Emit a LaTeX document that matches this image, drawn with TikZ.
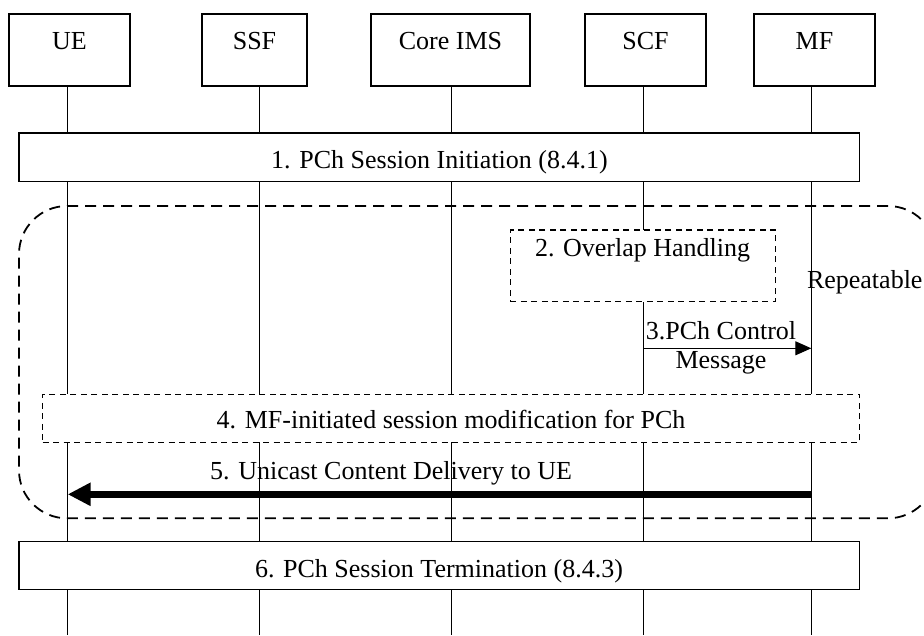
\documentclass[tikz,border=0pt]{standalone}
\usepackage{fontspec}
\setmainfont{Liberation Serif}
\usetikzlibrary{arrows.meta}
\begin{document}
\begin{tikzpicture}[x=1pt,y=-1pt,
  every node/.style={font=\fontsize{26}{30}\selectfont, inner sep=0pt, outer sep=0pt},
  ent/.style={draw, line width=1.3pt, fill=white, minimum width=121pt, minimum height=72pt, anchor=north},
  life/.style={line width=1pt},
  solidbox/.style={draw, line width=1.3pt, fill=white},
  dashbox/.style={draw, line width=1.1pt, fill=white, dash pattern=on 6pt off 4.5pt},
  loopbox/.style={draw, line width=1.8pt, dash pattern=on 11pt off 7pt, rounded corners=48pt},
  txt/.style={anchor=base},
  msg/.style={line width=1pt, -{Triangle[length=16pt,width=14pt]}},
  bigmsg/.style={line width=7pt, -{Triangle[length=23pt,width=22pt]}}]
\useasboundingbox (0,0) rectangle (924,635);
\clip (0,0) rectangle (924,635);
% entities
\node[ent] (ue) at (69.5,14) {};
\node[ent, minimum width=105pt] (ssf) at (254.5,14) {};
\node[ent, minimum width=159pt] (ims) at (450.5,14) {};
\node[ent] (scf) at (645.5,14) {};
\node[ent] (mf) at (814.5,14) {};
\node[txt] (tue) at (69.5,49) {UE};
\node[txt] (tssf) at (254.5,49) {SSF};
\node[txt] (tims) at (450.5,49) {Core IMS};
\node[txt] (tscf) at (645.5,49) {SCF};
\node[txt] (tmf) at (814.5,49) {MF};
% lifeline ends
\coordinate (ueE) at (67.7,635);
\coordinate (ssfE) at (259,635);
\coordinate (imsE) at (451.7,635);
\coordinate (scfE) at (643.7,635);
\coordinate (mfE) at (811.3,635);
\draw[life] (ue.south -| ueE) -- (ueE);
\draw[life] (ssf.south -| ssfE) -- (ssfE);
\draw[life] (ims.south -| imsE) -- (imsE);
\draw[life] (scf.south -| scfE) -- (scfE);
\draw[life] (mf.south -| mfE) -- (mfE);
% step 1
\node[solidbox, minimum width=840.7pt, minimum height=48.7pt] (s1) at (439.3,157.3) {};
\node[txt] (t1) at (439.5,168.3) {1. PCh Session Initiation (8.4.1)};
% repeat loop
\node[loopbox, minimum width=917pt, minimum height=312.3pt] (loop) at (477.5,362.15) {};
\node[anchor=base west] (rep) at (807,288.3) {Repeatable};
% step 2
\node[dashbox, minimum width=265pt, minimum height=71.7pt] (s2) at (642.8,265.85) {};
\node[txt] (t2) at (642.6,256.7) {2. Overlap Handling};
% step 3
\coordinate (a3s) at (643.7,348.3);
\coordinate (a3e) at (811.3,348.3);
\draw[msg] (a3s) -- (a3e);
\node[txt] (t3a) at (721,339.3) {3.PCh Control};
\node[txt] (t3b) at (721,368.3) {Message};
% step 4
\node[dashbox, minimum width=817pt, minimum height=48pt] (s4) at (451.2,418.3) {};
\node[txt] (t4) at (451,428.3) {4. MF-initiated session modification for PCh};
% step 5
\coordinate (a5s) at (811.3,494.3);
\coordinate (a5e) at (67.7,494.3);
\draw[bigmsg] (a5s) -- (a5e);
\node[txt] (t5) at (391,479.3) {5. Unicast Content Delivery to UE};
% step 6
\node[solidbox, minimum width=840.7pt, minimum height=47.6pt] (s6) at (439.3,565.5) {};
\node[txt] (t6) at (439,577.3) {6. PCh Session Termination (8.4.3)};
\end{tikzpicture}
\end{document}
